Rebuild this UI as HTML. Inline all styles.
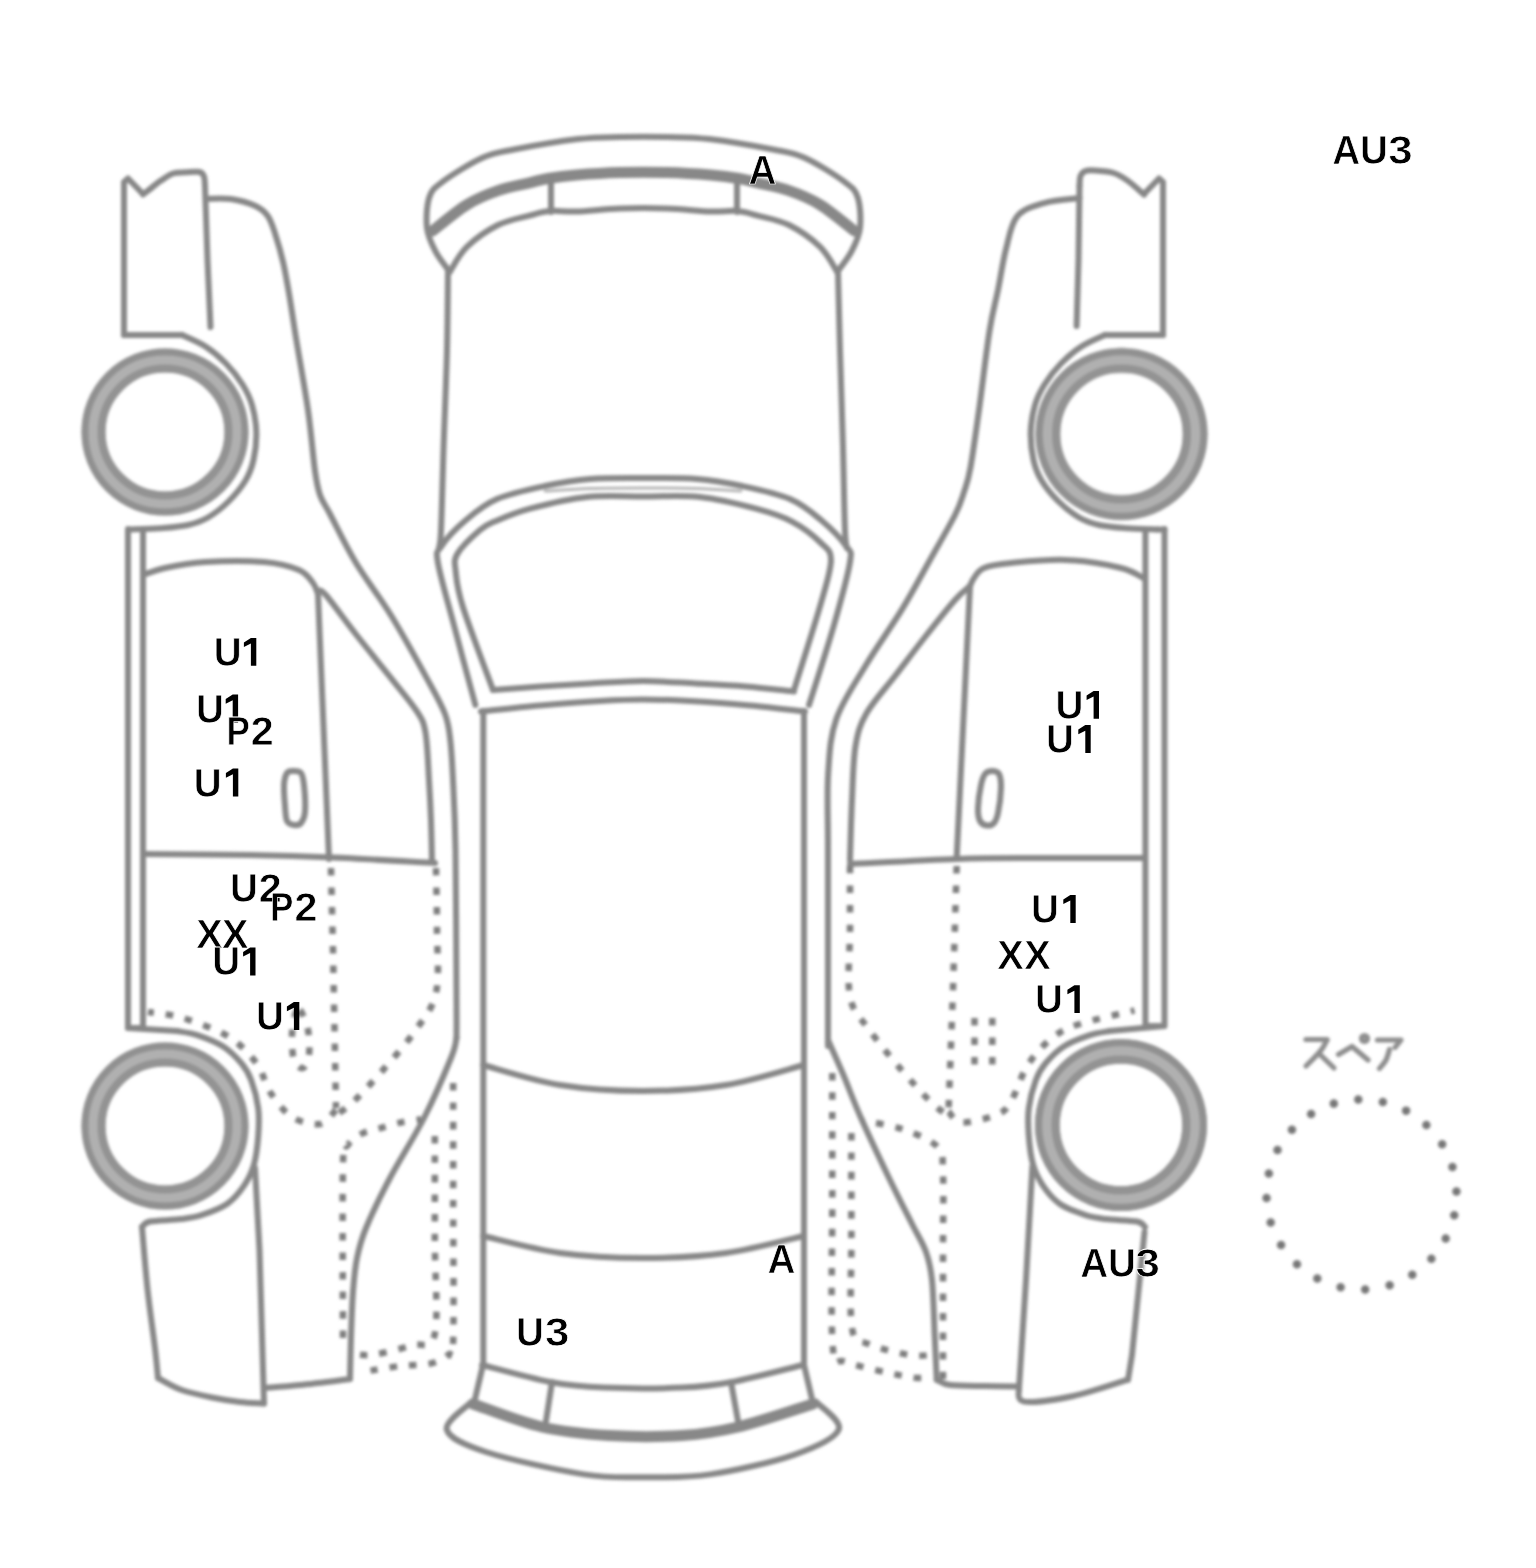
<!DOCTYPE html>
<html><head><meta charset="utf-8"><style>
html,body{margin:0;padding:0;background:#fff;}
body{width:1536px;height:1568px;overflow:hidden;position:relative;}
svg{position:absolute;left:0;top:0;}
.l{fill:none;stroke:#878787;stroke-width:6;stroke-linecap:round;stroke-linejoin:round;}
.lt{fill:none;stroke:#b4b4b4;stroke-width:3;stroke-linecap:round;}
.band{fill:none;stroke:#888;stroke-width:11;stroke-linecap:round;}
.d{fill:none;stroke:#7e7e7e;stroke-width:6.5;stroke-dasharray:7.5 12;}
.w{fill:none;}
.sp{fill:none;stroke:#777;stroke-width:8.5;stroke-dasharray:0 24.87;stroke-dashoffset:4;stroke-linecap:round;}
.tx{font-family:"Liberation Sans",sans-serif;font-weight:bold;font-size:40.5px;fill:#000;stroke:#fff;stroke-width:0.75px;}
.kn{fill:none;stroke:#8e8e8e;stroke-width:5.2;stroke-linecap:round;stroke-linejoin:round;}
</style></head><body>
<svg width="1536" height="1568" viewBox="0 0 1536 1568">
<defs>
<filter id="bl" x="-5%" y="-5%" width="110%" height="110%"><feGaussianBlur stdDeviation="1.6"/></filter>
<g id="wheel">
<circle class="w" r="71.5" stroke-width="24" stroke="#b0b0b0"/>
<circle class="w" r="63.5" stroke-width="8" stroke="#939393"/>
<circle class="w" r="80" stroke-width="7" stroke="#909090"/>
</g>
</defs>
<g filter="url(#bl)">
<path class="l" d="M124.0,335.0 L124.0,182.0 L128.0,178.5 L143.0,194.0" />
<path class="l" d="M143.0,194.5 C144.5,193.3 149.0,189.8 152.0,187.5 C155.0,185.2 157.5,182.9 161.0,180.6 C164.5,178.3 168.8,174.9 173.0,173.5 C177.2,172.1 181.6,172.6 186.0,172.3 C190.4,172.1 196.5,171.3 199.5,172.0 C202.5,172.7 203.1,174.2 204.0,176.5 C204.9,178.8 204.8,184.4 205.0,186.0" />
<path class="l" d="M205.0,186.0 L207.5,260.0 L210.5,327.0" />
<path class="l" d="M124.0,335.0 L182.0,335.0" />
<path class="l" d="M182.0,335.0 C185.9,336.9 198.2,341.8 205.5,346.5 C212.8,351.2 219.8,357.2 226.0,363.5 C232.2,369.8 238.2,377.6 242.5,384.5 C246.8,391.4 249.7,397.0 252.0,405.0 C254.3,413.0 256.1,423.1 256.3,432.3 C256.6,441.5 255.3,452.0 253.5,460.0 C251.7,468.0 249.6,473.7 245.5,480.5 C241.4,487.3 235.2,494.8 229.0,501.0 C222.8,507.2 214.8,513.5 208.0,517.5 C201.2,521.5 196.0,523.2 188.0,525.0 C180.0,526.8 169.7,527.5 160.0,528.3 C150.3,529.0 135.0,529.3 130.0,529.5" />
<path class="l" d="M128.0,529.0 L128.0,1028.0 L143.0,1028.0 L143.0,531.0" />
<path class="l" d="M206.0,198.8 C210.2,198.8 222.8,197.8 231.0,199.0 C239.2,200.2 249.4,203.2 255.5,206.0 C261.6,208.8 264.4,211.4 267.6,215.8 C270.8,220.2 272.2,224.8 274.8,232.7 C277.4,240.6 280.8,251.9 283.3,263.0 C285.8,274.1 287.9,286.9 290.0,299.4 C292.1,311.9 293.0,319.6 296.0,338.0 C299.0,356.4 304.8,387.8 308.0,410.0 C311.2,432.2 313.0,456.8 315.0,471.0 C317.0,485.2 317.5,487.8 320.0,495.0 C322.5,502.2 324.1,502.8 330.0,514.0 C335.9,525.2 345.5,545.5 355.7,562.5 C365.9,579.5 379.5,596.6 391.4,616.0 C403.3,635.4 418.1,662.3 427.0,678.6 C435.9,694.9 441.1,703.6 445.0,714.0 C448.9,724.4 449.1,730.0 450.4,741.0 C451.7,752.0 452.1,761.8 453.0,780.0 C453.9,798.2 454.9,813.3 455.5,850.0 C456.1,886.7 456.3,968.7 456.5,1000.0 C456.7,1031.3 456.5,1031.7 456.5,1038.0" />
<path class="l" d="M456.5,1038.0 C455.6,1041.3 456.4,1044.7 451.0,1058.0 C445.6,1071.3 434.2,1098.0 424.0,1118.0 C413.8,1138.0 399.7,1159.7 390.0,1178.0 C380.3,1196.3 371.5,1214.7 366.0,1228.0 C360.5,1241.3 359.2,1247.3 357.0,1258.0 C354.8,1268.7 354.0,1278.7 353.0,1292.0 C352.0,1305.3 351.5,1323.7 351.0,1338.0 C350.5,1352.3 350.2,1371.3 350.0,1378.0" />
<path class="l" d="M143.0,575.0 C146.7,573.8 154.7,570.2 165.0,568.0 C175.3,565.8 188.5,563.0 205.0,562.0 C221.5,561.0 248.3,560.7 264.0,562.0 C279.7,563.3 290.8,566.5 299.0,570.0 C307.2,573.5 309.8,579.0 313.0,583.0 C316.2,587.0 317.2,592.2 318.0,594.0" />
<path class="l" d="M318.0,594.0 L329.0,859.0" />
<path class="l" d="M318.0,591.0 C319.2,591.6 319.1,587.4 325.4,594.6 C331.7,601.8 344.7,620.0 355.7,634.0 C366.7,648.0 381.3,665.8 391.4,678.6 C401.5,691.4 410.7,701.8 416.4,710.7 C422.1,719.6 423.3,720.5 425.4,732.0 C427.5,743.5 428.1,765.3 429.0,780.0 C429.9,794.7 430.5,806.5 431.0,820.0 C431.5,833.5 431.8,854.2 432.0,861.0" />
<path class="l" d="M143.0,854.0 C160.8,854.2 218.3,854.4 250.0,855.0 C281.7,855.6 302.2,856.2 333.0,857.5 C363.8,858.8 418.0,862.1 435.0,863.0" />
<path class="l" d="M293.0,771.0 C295.3,771.0 299.2,770.7 301.0,773.0 C302.8,775.3 303.3,778.5 304.0,785.0 C304.7,791.5 305.5,805.7 305.0,812.0 C304.5,818.3 302.8,820.8 301.0,823.0 C299.2,825.2 296.3,825.3 294.0,825.0 C291.7,824.7 288.5,824.2 287.0,821.0 C285.5,817.8 285.5,812.0 285.0,806.0 C284.5,800.0 283.7,790.5 284.0,785.0 C284.3,779.5 285.5,775.3 287.0,773.0 C288.5,770.7 290.7,771.0 293.0,771.0 Z" />
<path class="l" d="M128.0,1028.0 L177.0,1031.0" />
<path class="l" d="M177.0,1031.0 C180.5,1031.7 190.2,1032.7 197.9,1035.3 C205.6,1037.9 215.9,1041.8 223.2,1046.5 C230.4,1051.2 236.7,1057.7 241.4,1063.3 C246.1,1068.9 248.4,1072.7 251.2,1080.2 C254.0,1087.7 257.0,1098.9 258.2,1108.2 C259.4,1117.5 258.9,1126.9 258.2,1136.3 C257.5,1145.7 256.3,1156.2 254.0,1164.4 C251.7,1172.6 248.6,1178.9 244.2,1185.4 C239.8,1192.0 234.4,1198.8 227.4,1203.7 C220.4,1208.6 209.8,1212.3 202.1,1214.9 C194.4,1217.5 189.7,1218.0 181.0,1219.1 C172.3,1220.2 156.5,1220.2 150.0,1221.5 C143.5,1222.8 143.3,1226.1 142.0,1227.0" />
<path class="l" d="M142.0,1227.0 C142.9,1237.5 145.4,1269.5 147.6,1290.0 C149.8,1310.5 153.5,1335.3 155.2,1350.0 C156.9,1364.7 157.5,1373.3 158.0,1378.0" />
<path class="l" d="M158.0,1378.0 C161.8,1380.0 172.0,1386.5 181.0,1389.8 C190.0,1393.0 202.2,1395.5 212.0,1397.5 C221.8,1399.5 231.3,1401.0 240.0,1402.0 C248.7,1403.0 260.0,1403.2 264.0,1403.5" />
<path class="l" d="M255.0,1168.0 L259.5,1250.0 L264.0,1403.5" />
<path class="l" d="M264.0,1388.0 C270.0,1387.5 285.7,1386.5 300.0,1385.0 C314.3,1383.5 341.7,1380.0 350.0,1379.0" />
<path class="d" d="M331.0,868.0 L333.0,950.0 L336.0,1108.0" />
<path class="d" d="M336.0,1110.0 C333.3,1112.3 327.3,1122.8 320.0,1124.0 C312.7,1125.2 300.3,1122.3 292.0,1117.0 C283.7,1111.7 275.8,1100.8 270.0,1092.0 C264.2,1083.2 263.8,1073.2 257.0,1064.0 C250.2,1054.8 241.3,1044.7 229.0,1037.0 C216.7,1029.3 196.5,1022.2 183.0,1018.0 C169.5,1013.8 153.8,1013.0 148.0,1012.0" />
<path class="d" d="M436.0,868.0 C436.2,878.3 437.0,909.2 437.0,930.0 C437.0,950.8 439.7,976.2 436.0,993.0 C432.3,1009.8 423.8,1018.2 415.0,1031.0 C406.2,1043.8 393.1,1058.4 383.0,1070.0 C372.9,1081.6 361.8,1093.5 354.4,1100.8 C347.0,1108.0 341.1,1111.4 338.4,1113.5" />
<path class="d" d="M300.0,1010.0 C302.2,1012.5 306.5,1022.5 308.0,1030.0 C309.5,1037.5 309.8,1048.7 309.0,1055.0 C308.2,1061.3 305.5,1067.2 303.0,1068.0 C300.5,1068.8 295.8,1065.5 294.0,1060.0 C292.2,1054.5 291.8,1042.5 292.0,1035.0 C292.2,1027.5 293.7,1019.2 295.0,1015.0 C296.3,1010.8 297.8,1007.5 300.0,1010.0 Z" />
<path class="d" d="M343.0,1338.0 C343.0,1309.0 342.2,1196.1 343.0,1164.0 C343.8,1131.9 344.4,1150.6 347.5,1145.6 C350.6,1140.6 355.9,1136.9 361.3,1134.0 C366.7,1131.1 373.2,1130.3 379.7,1128.4 C386.2,1126.5 393.4,1124.1 400.3,1122.6 C407.2,1121.1 417.6,1119.8 421.0,1119.2" />
<path class="d" d="M434.8,1136.0 C434.8,1153.3 434.8,1207.0 434.8,1240.0 C434.8,1273.0 438.6,1316.5 434.8,1334.0 C431.0,1351.5 421.8,1341.9 411.8,1345.3 C401.8,1348.7 384.2,1353.0 375.0,1354.5 C365.8,1356.0 359.8,1354.5 356.7,1354.5" />
<path class="d" d="M453.2,1083.0 C453.2,1102.5 453.2,1157.0 453.2,1200.0 C453.2,1243.0 454.0,1315.0 453.2,1340.7 C452.4,1366.5 452.4,1350.7 448.6,1354.5 C444.8,1358.3 438.2,1361.8 430.2,1363.7 C422.1,1365.6 410.2,1364.8 400.3,1366.0 C390.4,1367.2 375.5,1369.8 370.5,1370.6" />
<use href="#wheel" x="165" y="432"/>
<use href="#wheel" x="165" y="1126"/>
<path class="l" d="M1163.0,335.0 L1163.0,182.0 L1159.0,178.5 L1144.0,194.0" />
<path class="l" d="M1144.2,194.6 C1141.4,192.3 1132.7,184.2 1127.6,180.6 C1122.5,177.0 1119.0,174.7 1113.6,173.0 C1108.2,171.3 1099.7,170.8 1095.0,170.5 C1090.3,170.2 1087.9,170.1 1085.5,171.0 C1083.1,171.9 1081.5,173.5 1080.5,176.0 C1079.5,178.5 1079.7,184.3 1079.5,186.0" />
<path class="l" d="M1079.5,186.0 L1078.5,260.0 L1076.6,326.0" />
<path class="l" d="M1163.0,335.0 L1105.0,335.0" />
<path class="l" d="M1105.0,335.0 C1101.1,336.9 1088.8,341.8 1081.5,346.5 C1074.2,351.2 1067.2,357.2 1061.0,363.5 C1054.8,369.8 1048.8,377.6 1044.5,384.5 C1040.2,391.4 1037.3,397.0 1035.0,405.0 C1032.7,413.0 1031.0,423.1 1030.7,432.3 C1030.5,441.5 1031.7,452.0 1033.5,460.0 C1035.3,468.0 1037.4,473.7 1041.5,480.5 C1045.6,487.3 1051.8,494.8 1058.0,501.0 C1064.2,507.2 1072.2,513.5 1079.0,517.5 C1085.8,521.5 1091.0,523.2 1099.0,525.0 C1107.0,526.8 1117.3,527.5 1127.0,528.3 C1136.7,529.0 1152.0,529.3 1157.0,529.5" />
<path class="l" d="M1164.5,529.0 L1164.5,1026.0 L1145.4,1026.0 L1145.4,531.0" />
<path class="l" d="M1079.5,198.0 C1073.6,198.8 1054.4,199.9 1044.0,203.0 C1033.6,206.1 1023.3,208.9 1017.0,216.6 C1010.7,224.3 1009.2,236.8 1006.0,249.0 C1002.8,261.2 1000.8,276.3 998.0,290.0 C995.2,303.7 992.7,311.0 989.5,331.0 C986.3,351.0 982.2,387.2 979.0,410.0 C975.8,432.8 972.9,454.3 970.4,468.0 C967.9,481.7 966.6,484.2 964.0,492.0 C961.4,499.8 960.7,503.7 955.0,515.0 C949.3,526.3 938.8,544.3 930.0,560.0 C921.2,575.7 912.7,591.9 902.0,609.4 C891.3,626.9 876.9,646.8 866.0,665.0 C855.1,683.2 842.7,700.7 836.4,718.8 C830.1,736.9 829.6,751.5 828.2,773.4 C826.8,795.3 828.0,812.2 828.0,850.0 C828.0,887.8 828.0,967.3 828.0,1000.0 C828.0,1032.7 828.0,1038.3 828.0,1046.0" />
<path class="l" d="M828.0,1040.0 C830.5,1045.7 837.5,1061.0 843.0,1074.0 C848.5,1087.0 853.3,1100.7 861.0,1118.0 C868.7,1135.3 880.5,1160.3 889.0,1178.0 C897.5,1195.7 905.8,1211.7 912.0,1224.0 C918.2,1236.3 922.7,1242.7 926.0,1252.0 C929.3,1261.3 930.5,1265.7 932.0,1280.0 C933.5,1294.3 934.0,1321.4 934.8,1338.0 C935.6,1354.6 936.4,1372.8 936.7,1379.7" />
<path class="l" d="M1145.0,579.0 C1141.0,577.2 1134.2,571.2 1121.0,568.0 C1107.8,564.8 1084.3,560.8 1066.0,560.0 C1047.7,559.2 1024.7,561.7 1011.0,563.0 C997.3,564.3 990.2,565.5 984.0,568.0 C977.8,570.5 976.3,575.0 974.0,578.0 C971.7,581.0 970.7,584.7 970.0,586.0" />
<path class="l" d="M970.0,586.0 L956.7,857.0" />
<path class="l" d="M970.0,586.0 C967.5,588.3 962.5,591.5 955.0,600.0 C947.5,608.5 935.0,624.3 925.0,637.0 C915.0,649.7 904.8,663.3 895.0,676.0 C885.2,688.7 873.1,701.6 866.5,713.3 C859.9,725.0 857.9,731.5 855.5,746.0 C853.1,760.5 852.9,781.0 852.0,800.0 C851.1,819.0 850.3,850.0 850.0,860.0" />
<path class="l" d="M1145.0,858.0 C1127.5,858.0 1071.3,857.8 1040.0,858.0 C1008.7,858.2 988.7,858.0 957.0,859.0 C925.3,860.0 867.8,863.2 850.0,864.0" />
<path class="l" d="M992.0,771.0 C994.3,771.0 997.5,771.2 999.0,774.0 C1000.5,776.8 1001.2,781.5 1001.0,788.0 C1000.8,794.5 999.2,807.2 998.0,813.0 C996.8,818.8 995.8,820.9 994.0,823.0 C992.2,825.1 989.3,825.8 987.0,825.5 C984.7,825.2 981.5,823.9 980.0,821.0 C978.5,818.1 977.8,814.0 978.0,808.0 C978.2,802.0 979.8,790.7 981.0,785.0 C982.2,779.3 983.2,776.3 985.0,774.0 C986.8,771.7 989.7,771.0 992.0,771.0 Z" />
<path class="l" d="M1164.0,1026.0 L1110.0,1031.0" />
<path class="l" d="M1110.0,1031.0 C1106.5,1031.7 1096.8,1032.7 1089.1,1035.3 C1081.4,1037.9 1071.0,1041.8 1063.8,1046.5 C1056.5,1051.2 1050.3,1057.7 1045.6,1063.3 C1040.9,1068.9 1038.6,1072.7 1035.8,1080.2 C1033.0,1087.7 1030.0,1098.9 1028.8,1108.2 C1027.6,1117.5 1028.1,1126.9 1028.8,1136.3 C1029.5,1145.7 1030.7,1156.2 1033.0,1164.4 C1035.3,1172.6 1038.4,1178.9 1042.8,1185.4 C1047.2,1192.0 1052.6,1198.8 1059.6,1203.7 C1066.6,1208.6 1077.2,1212.3 1084.9,1214.9 C1092.6,1217.5 1097.3,1218.0 1106.0,1219.1 C1114.7,1220.2 1130.5,1220.2 1137.0,1221.5 C1143.5,1222.8 1143.7,1226.1 1145.0,1227.0" />
<path class="l" d="M1128.0,1379.7 L1132.0,1355.0 L1144.5,1232.0" />
<path class="l" d="M1019.0,1388.0 C1019.9,1390.3 1015.1,1400.3 1024.2,1401.6 C1033.3,1402.9 1056.1,1399.7 1073.4,1396.0 C1090.7,1392.3 1118.9,1382.4 1128.0,1379.7" />
<path class="l" d="M1032.4,1166.4 L1026.0,1280.0 L1019.0,1388.0" />
<path class="l" d="M936.7,1379.7 C939.0,1380.6 942.4,1384.0 950.4,1385.0 C958.4,1386.0 973.6,1385.8 985.0,1386.0 C996.4,1386.2 1013.3,1386.4 1019.0,1386.5" />
<path class="d" d="M956.7,866.0 L953.0,990.0 L948.5,1111.6" />
<path class="d" d="M948.5,1111.6 C950.8,1113.4 953.8,1122.0 962.0,1122.5 C970.2,1123.0 989.5,1118.0 997.7,1114.3 C1005.9,1110.6 1006.4,1108.8 1011.4,1100.6 C1016.4,1092.4 1021.0,1075.5 1027.8,1065.0 C1034.6,1054.5 1043.7,1044.5 1052.4,1037.7 C1061.1,1030.9 1066.1,1028.5 1079.8,1024.0 C1093.5,1019.5 1125.4,1012.7 1134.5,1010.4" />
<path class="d" d="M850.0,866.0 C850.0,876.7 850.0,908.2 850.0,930.0 C850.0,951.8 846.8,980.1 850.0,996.7 C853.2,1013.3 860.3,1017.2 869.0,1029.5 C877.7,1041.8 891.9,1058.8 902.0,1070.6 C912.1,1082.4 922.1,1093.3 929.4,1100.6 C936.7,1107.9 943.1,1112.0 945.8,1114.3" />
<path class="d" d="M974.5,1018.0 L974.5,1066.0" />
<path class="d" d="M943.0,1379.0 C943.0,1357.5 943.0,1284.1 943.0,1250.0 C943.0,1215.9 943.9,1191.7 943.0,1174.5 C942.1,1157.3 944.4,1154.6 937.6,1147.0 C930.8,1139.4 914.3,1133.3 902.0,1129.0 C889.7,1124.7 870.2,1122.3 863.8,1121.0" />
<path class="d" d="M851.4,1133.0 C851.4,1150.8 851.3,1207.5 851.4,1240.0 C851.5,1272.5 849.2,1310.7 852.0,1328.0 C854.8,1345.3 858.8,1339.5 868.4,1344.0 C878.0,1348.5 898.9,1353.2 909.4,1355.0 C919.9,1356.8 927.6,1355.0 931.3,1355.0" />
<path class="d" d="M832.3,1073.0 C832.3,1094.2 832.2,1154.3 832.3,1200.0 C832.4,1245.7 830.4,1320.0 832.8,1347.0 C835.2,1374.0 833.7,1357.0 846.5,1362.0 C859.3,1367.0 895.3,1374.5 909.4,1377.0 C923.5,1379.5 927.6,1377.0 931.3,1377.0" />
<path class="l" d="M1157.0,529.5 L1164.5,529.5" />
<path class="d" d="M992.3,1018.0 L992.3,1066.0" />
<use href="#wheel" transform="translate(1121.5,434) scale(1.03)"/>
<use href="#wheel" transform="translate(1121,1125) scale(1.03)"/>
<path class="l" d="M449.7,271.9 C447.4,268.5 439.4,258.9 435.6,251.6 C431.8,244.3 428.0,237.1 427.0,228.0 C426.0,218.9 426.7,204.8 429.4,197.0 C432.1,189.2 434.5,187.8 443.4,181.2 C452.2,174.7 470.8,163.1 482.5,157.8 C494.2,152.5 497.8,152.6 513.8,149.5 C529.7,146.4 560.3,141.1 578.0,139.0 C595.7,136.9 605.2,137.3 620.0,137.0 C634.8,136.7 652.2,136.7 667.0,137.0 C681.8,137.3 691.3,136.9 709.0,139.0 C726.7,141.1 757.3,146.4 773.2,149.5 C789.2,152.6 792.8,152.5 804.5,157.8 C816.2,163.1 834.8,174.7 843.6,181.2 C852.5,187.8 854.9,189.2 857.6,197.0 C860.3,204.8 861.0,218.9 860.0,228.0 C859.0,237.1 855.2,244.3 851.4,251.6 C847.6,258.9 839.6,268.5 837.3,271.9" />
<path class="band" d="M432.5,231.0 C438.2,226.6 456.0,211.4 466.9,204.7 C477.8,198.0 487.6,194.2 498.0,190.6 C508.4,186.9 521.1,184.8 529.4,182.8 C537.7,180.8 540.2,179.8 548.0,178.5 C555.8,177.2 564.3,176.0 576.3,175.0 C588.3,174.0 604.9,172.9 620.0,172.5 C635.1,172.1 651.9,172.1 667.0,172.5 C682.1,172.9 698.7,174.0 710.7,175.0 C722.7,176.0 731.2,177.2 739.0,178.5 C746.8,179.8 749.3,180.8 757.6,182.8 C765.9,184.8 778.6,186.9 789.0,190.6 C799.4,194.2 809.2,198.0 820.1,204.7 C831.0,211.4 848.8,226.6 854.5,231.0" />
<path class="l" d="M449.7,271.9 C452.6,267.7 458.8,254.7 466.9,246.9 C474.9,239.1 487.6,230.2 498.0,225.0 C508.4,219.8 520.8,217.9 529.4,215.6 C538.0,213.3 541.9,211.7 549.7,211.0 C557.5,210.3 564.6,211.9 576.3,211.5 C588.0,211.1 604.9,209.0 620.0,208.5 C635.1,208.0 651.9,208.0 667.0,208.5 C682.1,209.0 699.0,211.1 710.7,211.5 C722.4,211.9 729.5,210.3 737.3,211.0 C745.1,211.7 749.0,213.3 757.6,215.6 C766.2,217.9 778.6,219.8 789.0,225.0 C799.4,230.2 812.1,239.1 820.1,246.9 C828.1,254.7 834.4,267.7 837.3,271.9" />
<path class="l" d="M551.0,178.0 L551.0,212.0" />
<path class="l" d="M737.0,178.0 L737.0,212.0" />
<path class="l" d="M448.0,272.0 C447.8,285.0 447.7,320.8 447.0,350.0 C446.3,379.2 444.6,416.8 443.6,447.0 C442.6,477.2 441.8,514.2 441.0,531.0 C440.2,547.8 439.3,545.2 439.0,548.0" />
<path class="l" d="M838.0,272.0 C838.3,285.0 839.2,320.8 840.0,350.0 C840.8,379.2 842.2,416.8 843.0,447.0 C843.8,477.2 844.3,514.2 845.0,531.0 C845.7,547.8 846.7,545.2 847.0,548.0" />
<path class="l" d="M475.4,705.0 C471.8,691.7 460.1,648.8 453.9,625.0 C447.6,601.2 440.0,575.7 437.9,562.5 C435.8,549.3 436.8,553.1 441.5,546.0 C446.2,538.9 456.8,527.8 466.0,520.0 C475.2,512.2 483.8,504.7 497.0,499.0 C510.2,493.3 529.5,489.3 545.0,486.0 C560.5,482.7 573.7,480.3 590.0,479.0 C606.3,477.7 625.2,478.0 643.0,478.0 C660.8,478.0 680.5,477.7 697.0,479.0 C713.5,480.3 726.5,482.7 742.0,486.0 C757.5,489.3 776.8,493.3 790.0,499.0 C803.2,504.7 811.7,512.2 821.0,520.0 C830.3,527.8 841.2,539.0 846.0,546.0 C850.8,553.0 852.0,548.8 850.0,562.0 C848.0,575.2 840.8,601.2 834.0,625.0 C827.2,648.8 813.2,691.7 809.0,705.0" />
<path class="l" d="M481.0,711.5 C490.8,710.5 520.2,707.2 540.0,705.5 C559.8,703.8 582.8,702.0 600.0,701.0 C617.2,700.0 628.0,699.5 643.0,699.5 C658.0,699.5 672.2,700.0 690.0,701.0 C707.8,702.0 730.8,703.8 750.0,705.5 C769.2,707.2 795.8,710.5 805.0,711.5" />
<path class="l" d="M493.0,690.0 C488.0,676.2 469.1,626.8 462.9,607.0 C456.7,587.2 456.6,580.3 455.7,571.4 C454.8,562.5 453.4,560.5 457.5,553.6 C461.6,546.7 473.8,535.3 480.0,530.0 C486.2,524.7 486.2,525.1 494.5,521.6 C502.8,518.1 514.6,512.8 530.0,508.7 C545.4,504.6 568.2,499.0 587.0,497.0 C605.8,495.0 624.2,496.5 643.0,496.5 C661.8,496.5 681.2,495.0 700.0,497.0 C718.8,499.0 740.7,504.6 756.0,508.7 C771.3,512.8 781.2,515.9 792.0,521.6 C802.8,527.3 814.5,536.6 821.0,543.0 C827.5,549.4 831.0,550.0 831.0,560.0 C831.0,570.0 827.2,581.3 821.0,603.0 C814.8,624.7 798.5,675.5 794.0,690.0" />
<path class="l" d="M493.0,690.0 C500.8,689.4 523.8,687.6 540.0,686.5 C556.2,685.4 572.8,684.4 590.0,683.5 C607.2,682.6 625.3,681.0 643.0,681.0 C660.7,681.0 678.8,682.6 696.0,683.5 C713.2,684.4 729.7,685.2 746.0,686.5 C762.3,687.8 786.0,690.7 794.0,691.5" />
<path class="lt" d="M545.0,491.0 C552.5,490.6 573.7,489.0 590.0,488.5 C606.3,488.0 625.2,488.0 643.0,488.0 C660.8,488.0 680.7,488.0 697.0,488.5 C713.3,489.0 733.7,490.6 741.0,491.0" />
<path class="l" d="M483.3,711.0 L483.3,1365.0" />
<path class="l" d="M804.0,711.0 L804.0,1365.0" />
<path class="l" d="M483.0,1065.0 C495.8,1068.3 533.3,1080.7 560.0,1085.0 C586.7,1089.3 615.3,1091.0 643.0,1091.0 C670.7,1091.0 699.2,1089.3 726.0,1085.0 C752.8,1080.7 791.0,1068.3 804.0,1065.0" />
<path class="l" d="M483.0,1236.0 C495.8,1238.8 533.3,1249.3 560.0,1253.0 C586.7,1256.7 615.3,1258.0 643.0,1258.0 C670.7,1258.0 699.2,1256.7 726.0,1253.0 C752.8,1249.3 791.0,1238.8 804.0,1236.0" />
<path class="l" d="M482.0,1365.0 C493.3,1367.8 529.7,1378.2 550.0,1382.0 C570.3,1385.8 582.0,1386.7 604.0,1387.6 C626.0,1388.5 660.7,1388.5 682.0,1387.6 C703.3,1386.7 711.8,1385.8 732.0,1382.0 C752.2,1378.2 791.2,1367.8 803.0,1365.0" />
<path class="l" d="M483.0,1365.0 L475.0,1399.0" />
<path class="l" d="M804.0,1365.0 L812.0,1399.0" />
<path class="band" d="M473.0,1404.0 C484.5,1407.8 519.3,1421.8 542.0,1427.0 C564.7,1432.2 585.7,1434.1 609.0,1435.5 C632.3,1436.9 660.5,1436.9 682.0,1435.5 C703.5,1434.1 716.2,1432.2 738.0,1427.0 C759.8,1421.8 800.5,1407.8 813.0,1404.0" />
<path class="l" d="M552.0,1382.0 L546.0,1421.0" />
<path class="l" d="M731.0,1382.0 L738.0,1421.0" />
<path class="l" d="M472.0,1401.6 C467.8,1406.3 444.5,1421.2 446.8,1429.6 C449.1,1438.0 463.1,1444.5 486.0,1452.0 C508.9,1459.5 557.4,1470.2 584.0,1474.4 C610.6,1478.6 624.6,1477.2 645.6,1477.2 C666.6,1477.2 685.3,1478.1 710.0,1474.4 C734.7,1470.7 772.5,1462.3 794.0,1454.8 C815.5,1447.3 835.0,1438.5 838.7,1429.6 C842.4,1420.7 819.8,1406.3 816.0,1401.6" />
<circle class="sp" cx="1361.5" cy="1194.5" r="95"/>
<g><path class="kn" d="M1306.0,1039.5 L1327.0,1039.5" /><path class="kn" d="M1327.0,1040.0 C1326.2,1041.5 1324.2,1046.0 1322.0,1049.0 C1319.8,1052.0 1316.7,1055.2 1314.0,1058.0 C1311.3,1060.8 1307.3,1064.7 1306.0,1066.0" /><path class="kn" d="M1319.5,1054.0 L1334.0,1068.0" /><path class="kn" d="M1338.5,1054.5 L1352.0,1046.5 L1368.0,1060.0" /><path class="kn" d="M1377.5,1040.0 L1401.0,1040.0 L1395.0,1047.5" /><path class="kn" d="M1389.5,1049.5 C1388.9,1051.2 1387.7,1056.8 1386.0,1060.0 C1384.3,1063.2 1380.6,1067.1 1379.5,1068.5" /><circle cx="1364.5" cy="1038.5" r="3" class="kn" stroke-width="2.5"/></g>
</g>
<text transform="translate(1332.3,163.7) scale(0.957,1)" class="tx">A</text>
<text transform="translate(1360.0,163.7) scale(0.954,1)" class="tx">U</text>
<text transform="translate(1388.3,163.7) scale(1.084,1)" class="tx">3</text>
<text transform="translate(748.4,184.3) scale(0.957,1)" class="tx">A</text>
<text transform="translate(213.8,665.8) scale(0.954,1)" class="tx">U</text>
<path d="M250.9,637.9 L256.3,637.9 L256.3,665.8 L250.9,665.8 L250.9,643.5 L243.9,647.0 L243.9,642.4Z" fill="#000"/>
<text transform="translate(196.0,722.5) scale(0.954,1)" class="tx">U</text>
<path d="M232.7,694.6 L238.1,694.6 L238.1,722.5 L232.7,722.5 L232.7,700.2 L225.7,703.7 L225.7,699.1Z" fill="#000"/>
<text transform="translate(226.5,744.8) scale(0.866,1)" class="tx">P</text>
<text transform="translate(250.8,744.8) scale(1.020,1)" class="tx">2</text>
<text transform="translate(193.8,796.5) scale(0.954,1)" class="tx">U</text>
<path d="M232.9,768.6 L238.3,768.6 L238.3,796.5 L232.9,796.5 L232.9,774.2 L225.9,777.7 L225.9,773.1Z" fill="#000"/>
<text transform="translate(230.0,901.5) scale(0.954,1)" class="tx">U</text>
<text transform="translate(258.8,901.5) scale(1.020,1)" class="tx">2</text>
<text transform="translate(269.9,920.7) scale(0.866,1)" class="tx">P</text>
<text transform="translate(294.4,920.7) scale(1.020,1)" class="tx">2</text>
<text transform="translate(196.3,948.0) scale(0.978,1)" class="tx">X</text>
<text transform="translate(221.9,948.0) scale(0.978,1)" class="tx">X</text>
<text transform="translate(212.2,975.4) scale(0.954,1)" class="tx">U</text>
<path d="M250.1,947.5 L255.5,947.5 L255.5,975.4 L250.1,975.4 L250.1,953.1 L243.1,956.6 L243.1,952.0Z" fill="#000"/>
<text transform="translate(256.0,1030.0) scale(0.954,1)" class="tx">U</text>
<path d="M293.9,1002.1 L299.3,1002.1 L299.3,1030.0 L293.9,1030.0 L293.9,1007.7 L286.9,1011.2 L286.9,1006.6Z" fill="#000"/>
<text transform="translate(1055.6,718.8) scale(0.954,1)" class="tx">U</text>
<path d="M1093.6,690.9 L1099.0,690.9 L1099.0,718.8 L1093.6,718.8 L1093.6,696.5 L1086.6,700.0 L1086.6,695.4Z" fill="#000"/>
<text transform="translate(1046.0,753.0) scale(0.954,1)" class="tx">U</text>
<path d="M1085.3,725.1 L1090.7,725.1 L1090.7,753.0 L1085.3,753.0 L1085.3,730.7 L1078.3,734.2 L1078.3,729.6Z" fill="#000"/>
<text transform="translate(1031.0,922.9) scale(0.954,1)" class="tx">U</text>
<path d="M1070.3,895.0 L1075.7,895.0 L1075.7,922.9 L1070.3,922.9 L1070.3,900.6 L1063.3,904.1 L1063.3,899.5Z" fill="#000"/>
<text transform="translate(997.3,969.4) scale(0.978,1)" class="tx">X</text>
<text transform="translate(1024.3,969.4) scale(0.978,1)" class="tx">X</text>
<text transform="translate(1035.1,1013.1) scale(0.954,1)" class="tx">U</text>
<path d="M1074.4,985.2 L1079.8,985.2 L1079.8,1013.1 L1074.4,1013.1 L1074.4,990.8 L1067.4,994.3 L1067.4,989.7Z" fill="#000"/>
<text transform="translate(1080.3,1277.2) scale(0.957,1)" class="tx">A</text>
<text transform="translate(1108.0,1277.2) scale(0.954,1)" class="tx">U</text>
<text transform="translate(1135.5,1277.2) scale(1.084,1)" class="tx">3</text>
<text transform="translate(516.1,1346.0) scale(0.954,1)" class="tx">U</text>
<text transform="translate(545.1,1346.0) scale(1.084,1)" class="tx">3</text>
<text transform="translate(767.4,1272.6) scale(0.957,1)" class="tx">A</text>
</svg>
</body></html>
